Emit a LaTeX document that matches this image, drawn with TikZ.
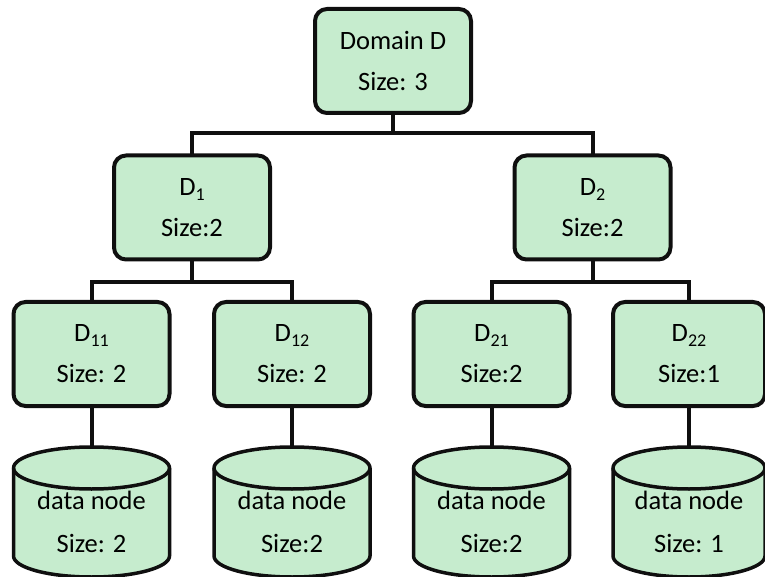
\documentclass[tikz,border=0pt]{standalone}
\usepackage{fontspec}
\setmainfont{Carlito}
\usetikzlibrary{calc}
\definecolor{boxgreen}{RGB}{198,236,206}
\definecolor{inkline}{RGB}{15,15,15}

% lowered, smaller index after a letter
\newcommand\idx[1]{\raisebox{-0.4ex}{\fontsize{18}{18}\selectfont #1}}

% drum (storage) outline drawn around an empty slot node: #1 node, #2 x radius
\newcommand\drawdrum[2]{%
  \path[drumbody] ([yshift=-21pt]#1.north west) -- ([yshift=21pt]#1.south west)
     arc[start angle=180,end angle=360,x radius=#2pt,y radius=21pt]
     -- ([yshift=-21pt]#1.north east)
     arc[start angle=0,end angle=180,x radius=#2pt,y radius=21pt] -- cycle;
  \draw[drumrim] ([yshift=-21pt]#1.north west)
     arc[start angle=180,end angle=360,x radius=#2pt,y radius=21pt];
}

\begin{document}
\begin{tikzpicture}[x=1pt,y=1pt,
  dbox/.style={draw=inkline, line width=4pt, rounded corners=12pt, fill=boxgreen,
    minimum width=156pt, minimum height=104pt, inner sep=0pt, outer sep=0pt,
    align=center, font=\fontsize{26.5}{41}\selectfont},
  link/.style={draw=inkline, line width=4pt},
  drumbody/.style={draw=inkline, line width=3.5pt, fill=boxgreen, line join=round},
  drumrim/.style={draw=inkline, line width=3.5pt},
  drumslot/.style={minimum width=156pt, minimum height=130pt, inner sep=0pt, outer sep=0pt},
  drumtext/.style={align=center, font=\fontsize{26.5}{43}\selectfont, inner sep=0pt}]
\useasboundingbox (0,0) rectangle (765,576);
\clip (0,0) rectangle (765,576);

% bus heights of the two branching levels
\coordinate (busA) at (0,443);
\coordinate (busB) at (0,294);

% domain tree
\node[dbox] (root) at (393,515) {Domain D\\Size: 3};
\node[dbox] (d1) at (192,368.5) {D\idx{1}\\Size:2};
\node[dbox] (d2) at (592.5,368.5) {D\idx{2}\\Size:2};
\node[dbox] (d11) at (91.5,222) {D\idx{11}\\Size: 2};
\node[dbox] (d12) at (292,222) {D\idx{12}\\Size: 2};
\node[dbox] (d21) at (491.5,222) {D\idx{21}\\Size:2};
\node[dbox, minimum width=152pt] (d22) at (689,222) {D\idx{22}\\Size:1};

% data node drums
\node[drumslot] (c11) at (91.5,64) {};
\node[drumslot] (c12) at (292,64) {};
\node[drumslot] (c21) at (491.5,64) {};
\node[drumslot, minimum width=152pt] (c22) at (689,64) {};
\drawdrum{c11}{78}
\drawdrum{c12}{78}
\drawdrum{c21}{78}
\drawdrum{c22}{76}
\node[drumtext] (t11) at (91.5,54.5) {data node\\Size: 2};
\node[drumtext] (t12) at (292,54.5) {data node\\Size:2};
\node[drumtext] (t21) at (491.5,54.5) {data node\\Size:2};
\node[drumtext] (t22) at (689,54.5) {data node\\Size: 1};

% connectors
\draw[link] (root.south) -- (root.south |- busA) -| (d1.north);
\draw[link] (root.south |- busA) -| (d2.north);
\draw[link] (d1.south) -- (d1.south |- busB) -| (d11.north);
\draw[link] (d1.south |- busB) -| (d12.north);
\draw[link] (d2.south) -- (d2.south |- busB) -| (d21.north);
\draw[link] (d2.south |- busB) -| (d22.north);
\draw[link] (d11.south) -- (c11.north);
\draw[link] (d12.south) -- (c12.north);
\draw[link] (d21.south) -- (c21.north);
\draw[link] (d22.south) -- (c22.north);
\end{tikzpicture}
\end{document}
